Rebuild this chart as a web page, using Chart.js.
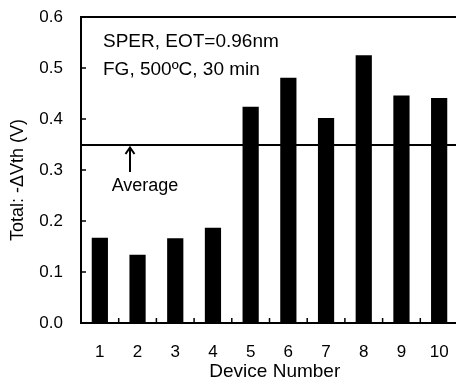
<!DOCTYPE html>
<html>
<head>
<meta charset="utf-8">
<script src="https://cdn.jsdelivr.net/npm/chart.js@4/dist/chart.umd.min.js"></script>
<style>
  html, body { margin: 0; padding: 0; background: #fff; overflow: hidden; }
  #wrap { width: 456px; height: 379px; overflow: hidden; position: relative; }
  #box { width: 460px; height: 379px; position: absolute; left: 0; top: 0; }
</style>
</head>
<body>
<div id="wrap"><div id="box"><canvas id="c"></canvas></div></div>
<script>
const devices = ['1', '2', '3', '4', '5', '6', '7', '8', '9', '10'];
const deltaVth = [0.167, 0.134, 0.166, 0.187, 0.424, 0.481, 0.402, 0.525, 0.446, 0.441];
const averageValue = 0.349;
const yTicks = [0.0, 0.1, 0.2, 0.3, 0.4, 0.5, 0.6];
const noteLines = ['SPER, EOT=0.96nm', 'FG, 500\u00BAC, 30 min'];
const averageLabel = 'Average';

const FONT = '"Liberation Sans", Arial, Helvetica, sans-serif';

const decorPlugin = {
  id: 'decor',
  afterDraw(chart) {
    const ctx = chart.ctx;
    const a = chart.chartArea;
    const xs = chart.scales.x, ys = chart.scales.y;
    ctx.save();
    ctx.strokeStyle = '#000';
    ctx.fillStyle = '#000';
    // top frame line
    const ty = ys.getPixelForValue(0.6);
    ctx.fillRect(a.left - 1, ty - 1, a.right - a.left + 4, 2);
    // inward y ticks
    yTicks.forEach(v => {
      const py = ys.getPixelForValue(v);
      ctx.fillRect(a.left, py - 0.75, 5, 1.5);
    });
    // inward x ticks at category boundaries
    for (let i = 0; i < devices.length; i++) {
      const px = (xs.getPixelForValue(i) + xs.getPixelForValue(i + 1)) / 2;
      ctx.fillRect(px - 0.75, a.bottom - 5, 1.5, 5);
    }
    // average line
    const ay = ys.getPixelForValue(averageValue);
    ctx.fillRect(a.left, ay - 1, a.right - a.left + 4, 2);
    // arrow
    const ax = a.left + 49;
    ctx.lineWidth = 2;
    ctx.beginPath();
    ctx.moveTo(ax, ay + 3);
    ctx.lineTo(ax, ay + 27);
    ctx.stroke();
    ctx.beginPath();
    ctx.moveTo(ax - 4.5, ay + 9);
    ctx.lineTo(ax, ay + 2.5);
    ctx.lineTo(ax + 4.5, ay + 9);
    ctx.stroke();
    // texts
    ctx.font = '18px ' + FONT;
    ctx.textAlign = 'center';
    ctx.textBaseline = 'alphabetic';
    ctx.fillText(averageLabel, ax + 15, ay + 46);
    ctx.font = '19px ' + FONT;
    ctx.textAlign = 'left';
    ctx.fillText(noteLines[0], a.left + 22, ty + 30);
    ctx.fillText(noteLines[1], a.left + 22, ty + 58);
    ctx.restore();
  }
};

new Chart(document.getElementById('c'), {
  type: 'bar',
  data: {
    labels: devices,
    datasets: [{
      data: deltaVth,
      backgroundColor: '#000',
      borderWidth: 0,
      barPercentage: 0.43,
      categoryPercentage: 1.0
    }]
  },
  options: {
    responsive: true,
    maintainAspectRatio: false,
    animation: false,
    devicePixelRatio: 1,
    layout: { padding: { top: 17, right: 2, left: 0, bottom: 0 } },
    plugins: { legend: { display: false }, tooltip: { enabled: false } },
    scales: {
      x: {
        offset: true,
        grid: { display: true, drawOnChartArea: false, drawTicks: true, tickLength: 19, tickColor: 'rgba(0,0,0,0)', offset: true },
        border: { display: true, color: '#000', width: 2 },
        ticks: { color: '#000', font: { family: FONT, size: 17 }, padding: 0, maxRotation: 0, autoSkip: false },
        title: { display: true, text: '  Device Number', color: '#000', font: { family: FONT, size: 19, lineHeight: 1 }, padding: { top: 0, bottom: -2 } },
        afterFit(scale) { scale.height = 56; }
      },
      y: {
        min: 0, max: 0.6,
        afterBuildTicks(scale) { scale.ticks = yTicks.map(v => ({ value: v })); },
        grid: { display: true, drawOnChartArea: false, drawTicks: true, tickLength: 18, tickColor: 'rgba(0,0,0,0)' },
        border: { display: true, color: '#000', width: 2 },
        ticks: { color: '#000', font: { family: FONT, size: 17 }, padding: 0, callback: v => Number(v).toFixed(1) },
        title: { display: true, text: 'Total: -\u0394Vth (V)    ', color: '#000', font: { family: FONT, size: 18, lineHeight: 1 }, padding: { top: 9, bottom: 0 } },
        afterFit(scale) { scale.width = 81; }
      }
    }
  },
  plugins: [decorPlugin]
});
</script>
</body>
</html>
